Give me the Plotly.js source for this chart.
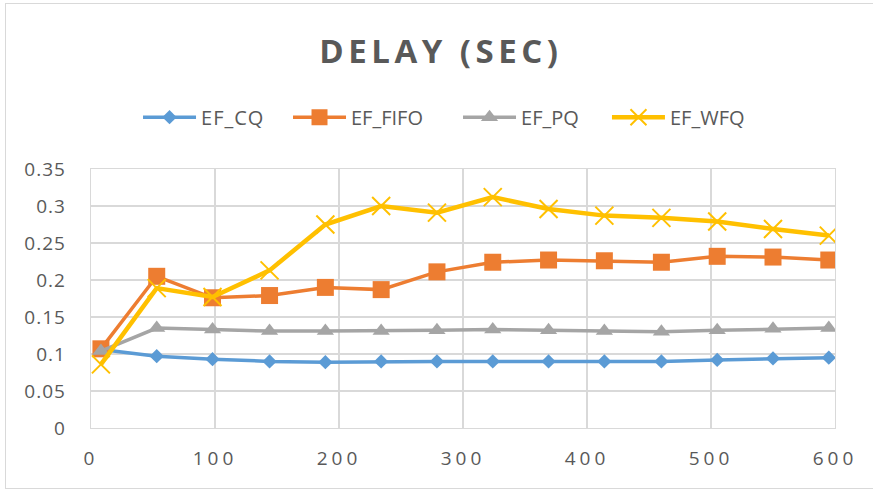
<!DOCTYPE html>
<html>
<head>
<meta charset="utf-8">
<script src="https://cdn.plot.ly/plotly-3.0.1.min.js"></script>
<style>
  html, body { margin: 0; padding: 0; background: #ffffff; }
  #wrap { position: relative; width: 873px; height: 491px; }
  #frame { position: absolute; left: 5px; top: 3px; width: 880px; height: 486px;
           border: 1.5px solid #d9d9d9; box-sizing: border-box; pointer-events: none; }
  #chart { position: absolute; left: 0; top: 0; width: 873px; height: 491px; }
  #chart .gtitle { letter-spacing: 4.5px; }
  #chart .xtick text { letter-spacing: 4px; }
  #chart .ytick text { letter-spacing: 1px; }
  #chart .legendtext { letter-spacing: 1px; }
  /* centre the legend marker on its (itemwidth-long) line sample */
  #chart .legendpoints path.scatterpts { transform: translate(31.5px, 0px); }
</style>
</head>
<body>
<div id="wrap">
  <div id="chart"></div>
  <div id="frame"></div>
</div>
<script>
// Sample points (x) and delay in seconds for each queueing discipline
const xs      = [8, 53, 98, 144, 189, 234, 279, 324, 369, 414, 460, 505, 550, 595];
const efCQ    = [0.106, 0.097, 0.093, 0.090, 0.089, 0.090, 0.090, 0.090, 0.090, 0.090, 0.090, 0.092, 0.094, 0.095];
const efFIFO  = [0.107, 0.205, 0.176, 0.179, 0.190, 0.187, 0.211, 0.224, 0.227, 0.226, 0.224, 0.232, 0.231, 0.227];
const efPQ    = [0.104, 0.135, 0.133, 0.131, 0.131, 0.131, 0.132, 0.133, 0.132, 0.131, 0.130, 0.132, 0.134, 0.135];
const efWFQ   = [0.086, 0.189, 0.177, 0.213, 0.275, 0.300, 0.291, 0.312, 0.296, 0.287, 0.284, 0.279, 0.269, 0.260];

const seriesNames = ['EF_CQ', 'EF_FIFO', 'EF_PQ', 'EF_WFQ'];
const xTicks = [0, 100, 200, 300, 400, 500, 600];
const yTicks = [0, 0.05, 0.1, 0.15, 0.2, 0.25, 0.3, 0.35];
const yTickText = ['0', '0.05', '0.1', '0.15', '0.2', '0.25', '0.3', '0.35'];

const textColor = '#595959';
const gridColor = '#d9d9d9';
const fontFamily = '"Open Sans", "Noto Sans", sans-serif';

const traces = [
  { x: xs, y: efCQ, name: seriesNames[0], mode: 'lines+markers', legend: 'legend',
    line: { color: '#5B9BD5', width: 3.5 },
    marker: { symbol: 'diamond', size: 11, color: '#5B9BD5' } },
  { x: xs, y: efFIFO, name: seriesNames[1], mode: 'lines+markers', legend: 'legend2',
    line: { color: '#ED7D31', width: 3.5 },
    marker: { symbol: 'square', size: 17, color: '#ED7D31' } },
  { x: xs, y: efPQ, name: seriesNames[2], mode: 'lines+markers', legend: 'legend3',
    line: { color: '#A5A5A5', width: 3.5 },
    marker: { symbol: 'triangle-up', size: 15, color: '#A5A5A5' } },
  { x: xs, y: efWFQ, name: seriesNames[3], mode: 'lines+markers', legend: 'legend4',
    line: { color: '#FFC000', width: 4.5 },
    marker: { symbol: 'x-thin', size: 18, color: '#FFC000', line: { color: '#FFC000', width: 2 } } }
];

// one single-entry legend per series, laid out in a row above the plot
function legendAt(x) {
  return {
    orientation: 'h', x: x, xanchor: 'left', y: 1.2, yanchor: 'middle',
    bgcolor: 'rgba(0,0,0,0)', borderwidth: 0, itemwidth: 53,
    font: { family: fontFamily, size: 20, color: textColor }
  };
}

const layout = {
  width: 873, height: 491,
  margin: { l: 91, r: 38, t: 169, b: 63 },
  paper_bgcolor: 'rgba(0,0,0,0)',
  plot_bgcolor: '#ffffff',
  showlegend: true,
  title: {
    text: '<b>DELAY (SEC)</b>',
    font: { family: fontFamily, size: 33, color: textColor },
    xref: 'container', x: 0.505, xanchor: 'center',
    yref: 'container', y: 0.895, yanchor: 'middle'
  },
  legend: legendAt(0.0632),
  legend2: legendAt(0.2648),
  legend3: legendAt(0.4933),
  legend4: legendAt(0.6935),
  xaxis: {
    range: [0, 600], tickvals: xTicks, ticktext: xTicks.map(String),
    showgrid: true, gridcolor: gridColor, gridwidth: 1.3,
    showline: true, linecolor: gridColor, linewidth: 1.3, mirror: true,
    zeroline: false, ticks: '', ticklabelstandoff: 13,
    tickfont: { family: fontFamily, size: 19, color: textColor }
  },
  yaxis: {
    range: [0, 0.35], tickvals: yTicks, ticktext: yTickText,
    showgrid: true, gridcolor: gridColor, gridwidth: 1.3,
    showline: true, linecolor: gridColor, linewidth: 1.3, mirror: true,
    zeroline: false, ticks: '', ticklabelstandoff: 20,
    tickfont: { family: fontFamily, size: 19, color: textColor }
  }
};

Plotly.newPlot('chart', traces, layout, { staticPlot: true, displayModeBar: false });
</script>
</body>
</html>
